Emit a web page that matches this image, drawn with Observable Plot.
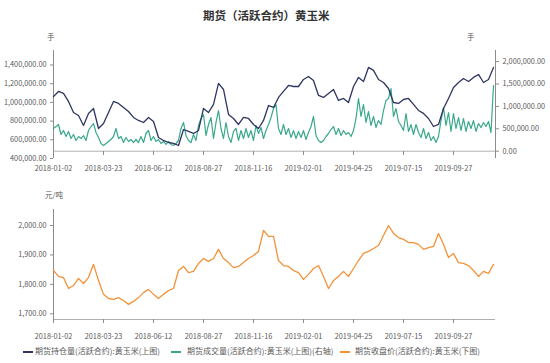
<!DOCTYPE html>
<html><head><meta charset="utf-8">
<script src="https://cdn.jsdelivr.net/npm/d3@7"></script>
<script src="https://cdn.jsdelivr.net/npm/@observablehq/plot@0.6"></script>
<style>
body{margin:0;background:#fff;font-family:"Noto Sans CJK SC","Noto Sans",sans-serif;}
#wrap{position:relative;width:550px;height:363px;overflow:hidden;background:#fff;}
#wrap svg{position:absolute;left:0;}
.t{position:absolute;color:#595959;white-space:nowrap;line-height:1;}
.sw{position:absolute;height:2px;width:10px;}
</style></head><body><div id="wrap"></div><script>
// x-axis tick labels (every 10th sample)
const tickDates = ["2018-01-02","2018-03-23","2018-06-12","2018-08-27","2018-11-16","2019-02-01","2019-04-25","2019-07-15","2019-09-27"];
const leftTicks = [400000,600000,800000,1000000,1200000,1400000];
const rightTicks = [0,500000,1000000,1500000,2000000];
const priceTicks = [1700,1800,1900,2000];
const seriesNames = ["期货持仓量(活跃合约):黄玉米(上图)","期货成交量(活跃合约):黄玉米(上图)(右轴)","期货收盘价(活跃合约):黄玉米(下图)"];
const colors = ["#2e3562","#3aa88c","#f39239"];

// 期货持仓量 (left axis), one value per sample
const openInterest = [
1063000,1117000,1096000,1010000,892000,860000,753000,882000,935000,721000,
775000,892000,1010000,989000,946000,903000,839000,807000,785000,839000,
796000,625000,593000,571000,561000,539000,710000,689000,668000,700000,
935000,892000,978000,1203000,1138000,871000,828000,764000,839000,828000,
764000,721000,807000,967000,946000,1053000,1117000,1181000,1170000,1170000,
1245000,1277000,1235000,1074000,1053000,1096000,1138000,1021000,1042000,999000,
1170000,1267000,1224000,1374000,1342000,1245000,1213000,1149000,999000,989000,
1031000,1042000,978000,914000,882000,828000,742000,764000,935000,1042000,
1160000,1213000,1256000,1224000,1267000,1299000,1213000,1245000,1374000];

// 期货成交量 (right axis), two values per sample
const volume = [
507000,551000,596000,373000,462000,328000,440000,283000,373000,239000,
328000,283000,350000,239000,462000,551000,618000,417000,306000,172000,
127000,172000,217000,261000,328000,507000,283000,328000,194000,306000,
217000,261000,194000,261000,194000,328000,194000,395000,462000,239000,
328000,217000,261000,172000,217000,
150000,217000,150000,127000,172000,239000,507000,641000,350000,239000,
194000,373000,239000,574000,730000,819000,350000,596000,752000,283000,
641000,908000,507000,283000,641000,328000,194000,440000,507000,239000,
462000,283000,507000,306000,462000,239000,574000,395000,529000,283000,
462000,596000,752000,953000,
1042000,507000,373000,596000,373000,507000,306000,462000,283000,440000,
306000,462000,261000,417000,551000,775000,350000,239000,194000,239000,
328000,395000,484000,551000,373000,507000,350000,462000,373000,417000,
328000,462000,730000,1176000,775000,1042000,641000,886000,574000,775000,
529000,685000,596000,908000,
1132000,1176000,1399000,775000,953000,663000,574000,462000,841000,440000,
596000,373000,596000,417000,306000,507000,283000,417000,239000,328000,
194000,328000,685000,975000,574000,864000,440000,841000,507000,752000,
462000,730000,440000,663000,507000,685000,440000,618000,529000,641000,
551000,663000,417000,1466000];

// 期货收盘价 (bottom chart)
const closePrice = [
1847,1827,1823,1786,1796,1820,1803,1823,1868,1813,
1766,1752,1749,1755,1745,1732,1742,1755,1772,1783,
1766,1752,1766,1779,1786,1847,1861,1840,1844,1871,
1888,1878,1888,1919,1888,1874,1857,1861,1874,1888,
1898,1912,1983,1963,1963,1881,1864,1861,1847,1840,
1817,1834,1854,1864,1827,1786,1813,1827,1844,1827,
1854,1881,1905,1912,1922,1932,1966,2000,1973,1959,
1953,1942,1942,1936,1919,1925,1929,1973,1936,1891,
1905,1874,1871,1864,1847,1827,1844,1837,1868];

const font = '"Noto Sans CJK SC","Noto Sans",sans-serif';
const xMax = 88.4;
const tickIdx = tickDates.map((d,i)=>i*10);
const leftMin=400000, leftMax=1555000, rightMin=-162900, rightMax=2247700;
const toLeft = r => leftMin + (r-rightMin)*(leftMax-leftMin)/(rightMax-rightMin);
const fromLeft = l => rightMin + (l-leftMin)*(rightMax-rightMin)/(leftMax-leftMin);
const f2 = d3.format(",.2f");
const axisCol = "#8c8c8c", txtCol = "#595959";

const blueData = openInterest.map((v,i)=>({x:i,y:v}));
const greenData = volume.map((v,i)=>({x:i/2,y:toLeft(v)}));
const orangeData = closePrice.map((v,i)=>({x:i,y:v}));

const topPlot = Plot.plot({
  width:550, height:180, marginTop:50, marginBottom:22, marginLeft:53, marginRight:55,
  style:{background:"transparent", fontFamily:font, fontSize:"7.3px", color:txtCol},
  x:{domain:[0,xMax], label:null}, y:{domain:[leftMin,leftMax], label:null},
  marks:[
    Plot.ruleX([0],{stroke:axisCol}),
    Plot.ruleX([xMax],{stroke:axisCol}),
    Plot.ruleY([toLeft(0)],{stroke:"#b0b0b0"}),
    Plot.axisX({ticks:tickIdx, tickFormat:d=>tickDates[Math.round(d/10)], tickSize:4, tickPadding:10, dy:-7, stroke:axisCol, fill:txtCol, label:null}),
    Plot.axisY({anchor:"left", ticks:leftTicks, tickFormat:f2, tickSize:3, tickPadding:4, stroke:axisCol, fill:txtCol, label:null}),
    Plot.axisY({anchor:"right", ticks:rightTicks.map(toLeft), tickFormat:d=>f2(Math.round(fromLeft(d)/1000)*1000), tickSize:3, tickPadding:4, stroke:axisCol, fill:txtCol, label:null}),
    Plot.line(greenData,{x:"x",y:"y",stroke:colors[1],strokeWidth:1.2}),
    Plot.line(blueData,{x:"x",y:"y",stroke:colors[0],strokeWidth:1.3})
  ]
});
topPlot.style.top = "0px";

const botPlot = Plot.plot({
  width:550, height:160, marginTop:29, marginBottom:21, marginLeft:53, marginRight:55,
  style:{background:"transparent", fontFamily:font, fontSize:"7.3px", color:txtCol},
  x:{domain:[0,xMax], label:null}, y:{domain:[1680.6,2054.4], label:null},
  marks:[
    Plot.ruleX([0],{stroke:axisCol}),
    Plot.ruleY([1680.6],{stroke:"#b0b0b0"}),
    Plot.axisX({ticks:tickIdx, tickFormat:d=>tickDates[Math.round(d/10)], tickSize:4, tickPadding:10, stroke:axisCol, fill:txtCol, label:null}),
    Plot.axisY({anchor:"left", ticks:priceTicks, tickFormat:f2, tickSize:3, tickPadding:4, stroke:axisCol, fill:txtCol, label:null}),
    Plot.line(orangeData,{x:"x",y:"y",stroke:colors[2],strokeWidth:1.3})
  ]
});
botPlot.style.top = "180px";

const wrap = document.getElementById("wrap");
wrap.appendChild(topPlot);
wrap.appendChild(botPlot);

function addText(txt, left, top, size, extra){
  const d = document.createElement("div");
  d.className = "t"; d.textContent = txt;
  d.style.left = left+"px"; d.style.top = top+"px"; d.style.fontSize = size+"px";
  if (extra) Object.assign(d.style, extra);
  wrap.appendChild(d);
  return d;
}
addText("期货（活跃合约）黄玉米", 203, 10, 11.5, {color:"#333", fontWeight:"bold"});
addText("手", 47, 33, 7.5);
addText("手", 467, 33, 7.5);
addText("元/吨", 45, 191, 7.5);

const legendPos = [[23,35],[171,187],[340,355]];
seriesNames.forEach((n,i)=>{
  const s = document.createElement("div");
  s.className = "sw"; s.style.left = legendPos[i][0]+"px"; s.style.top = "351px";
  s.style.background = colors[i];
  wrap.appendChild(s);
  addText(n, legendPos[i][1], 347, 8);
});
</script></body></html>
